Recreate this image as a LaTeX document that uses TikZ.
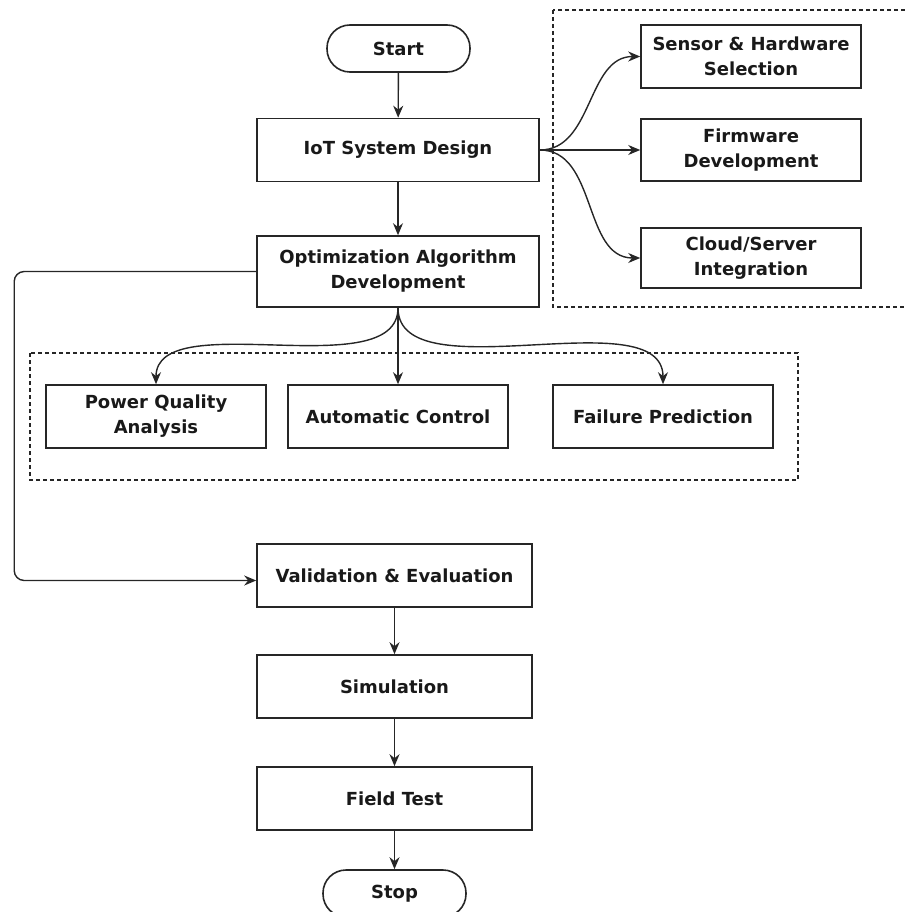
\documentclass[tikz,border=0pt]{standalone}
\usepackage{fontspec}
\setmainfont{DejaVu Sans}
\usetikzlibrary{arrows.meta}

\tikzset{
  process/.style={draw=black!85, line width=1.6pt, align=center, inner sep=0pt,
    text=black!90, font=\bfseries\fontsize{18}{25}\selectfont},
  terminal/.style={process, rounded corners=23pt},
  groupbox/.style={draw=black!85, line width=1.2pt, dash pattern=on 4pt off 3pt},
  arr/.style={draw=black!85, line width=1.4pt, -{Stealth[length=12pt,width=10pt]}},
}

\begin{document}
\begin{tikzpicture}[x=1pt,y=-1pt]
\useasboundingbox (0,0) rectangle (904,912);

% dashed groups
\draw[groupbox] (553,10) rectangle (915,307);
\draw[groupbox] (30,353) rectangle (798,480);

% main flow
\node[terminal, minimum width=143, minimum height=47] (start) at (398.5,48.5) {Start};
\node[process, minimum width=282, minimum height=63] (iot) at (398,150) {IoT System Design};
\node[process, minimum width=282, minimum height=71] (opt) at (398,271.5) {Optimization Algorithm\\Development};

% hardware side
\node[process, minimum width=220, minimum height=63] (sensor) at (751,56.5) {Sensor \& Hardware\\Selection};
\node[process, minimum width=220, minimum height=62] (firm) at (751,150) {Firmware\\Development};
\node[process, minimum width=220, minimum height=60] (cloud) at (751,258) {Cloud/Server\\Integration};

% algorithm parts
\node[process, minimum width=220, minimum height=63] (pqa) at (156,416.5) {Power Quality\\Analysis};
\node[process, minimum width=220, minimum height=63] (auto) at (398,416.5) {Automatic Control};
\node[process, minimum width=220, minimum height=63] (fail) at (663,416.5) {Failure Prediction};

% evaluation
\node[process, minimum width=275, minimum height=63] (val) at (394.5,575.5) {Validation \& Evaluation};
\node[process, minimum width=275, minimum height=63] (sim) at (394.5,686.5) {Simulation};
\node[process, minimum width=275, minimum height=63] (field) at (394.5,798.5) {Field Test};
\node[terminal, minimum width=143, minimum height=47] (stop) at (394.5,893.5) {Stop};

% connectors
\draw[arr] (start) -- (iot);
\draw[arr] (iot) -- (opt);
\draw[arr] (iot.east) to[out=0,in=180] (sensor.west);
\draw[arr] (iot.east) -- (firm.west);
\draw[arr] (iot.east) to[out=0,in=180] (cloud.west);
\draw[arr] (opt.south) to[out=-90,in=90,looseness=0.8] (pqa.north);
\draw[arr] (opt.south) -- (auto.north);
\draw[arr] (opt.south) to[out=-90,in=90,looseness=0.8] (fail.north);
\draw[arr, rounded corners=10pt] (opt.west) -- ++(-242,0) |- ([yshift=-5]val.west);
\draw[arr] (val) -- (sim);
\draw[arr] (sim) -- (field);
\draw[arr] (field) -- (stop);
\end{tikzpicture}
\end{document}
